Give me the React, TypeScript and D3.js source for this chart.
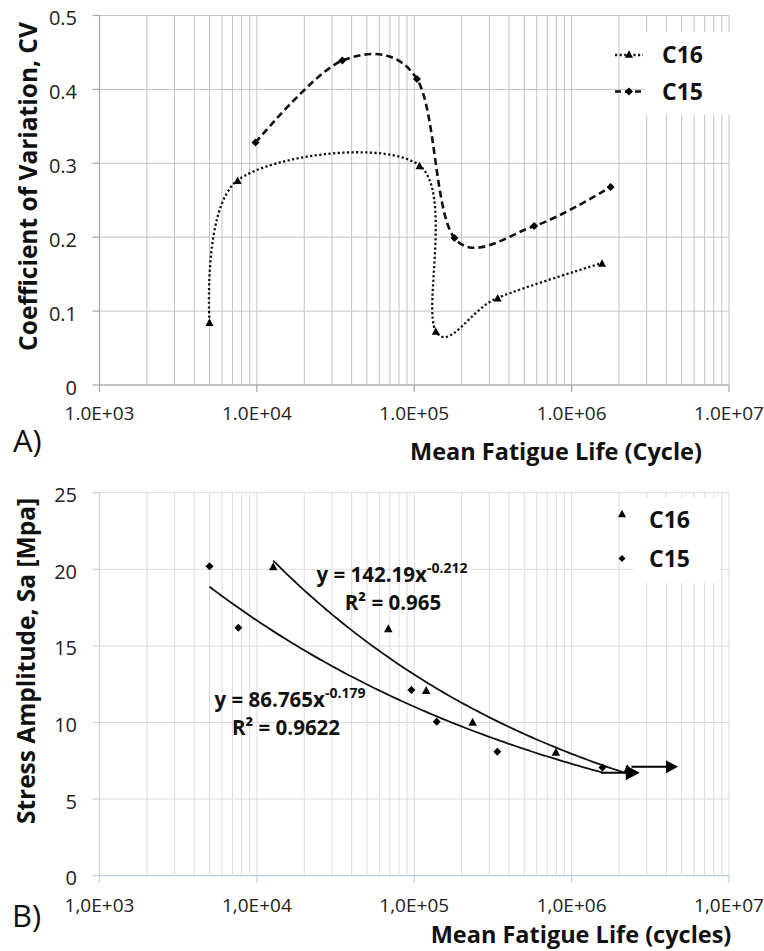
import React from "react";
import * as d3 from "d3";

// ---------- Data ----------
// Panel A: coefficient of variation vs mean fatigue life
const cvC16Life = [5.0e3, 7.55e3, 1.08e5, 1.37e5, 3.39e5, 1.56e6];
const cvC16Val = [0.085, 0.277, 0.297, 0.073, 0.118, 0.165];
const cvC15Life = [9.8e3, 3.49e4, 1.04e5, 1.8e5, 5.78e5, 1.77e6];
const cvC15Val = [0.328, 0.439, 0.414, 0.199, 0.215, 0.268];

// Panel B: stress amplitude vs mean fatigue life
const saC16Life = [1.27e4, 6.84e4, 1.19e5, 2.35e5, 7.94e5, 2.27e6];
const saC16Val = [20.2, 16.15, 12.12, 10.05, 8.09, 7.0];
const saC15Life = [5.0e3, 7.62e3, 9.6e4, 1.39e5, 3.37e5, 1.57e6];
const saC15Val = [20.2, 16.19, 12.12, 10.05, 8.09, 7.07];

// run-out arrows (panel B)
const runoutFrom = [1.54e6, 2.4e6];
const runoutTo = [2.71e6, 4.74e6];
const runoutVal = [6.72, 7.11];

// ticks
const xTickValues = [1e3, 1e4, 1e5, 1e6, 1e7];
const xTickLabelsA = ["1.0E+03", "1.0E+04", "1.0E+05", "1.0E+06", "1.0E+07"];
const xTickLabelsB = ["1,0E+03", "1,0E+04", "1,0E+05", "1,0E+06", "1,0E+07"];
const yTickValuesA = [0, 0.1, 0.2, 0.3, 0.4, 0.5];
const yTickLabelsA = ["0", "0.1", "0.2", "0.3", "0.4", "0.5"];
const yTickValuesB = [0, 5, 10, 15, 20, 25];
const yTickLabelsB = ["0", "5", "10", "15", "20", "25"];

const seriesNames = ["C16", "C15"];
const eqC16 = { main: "y = 142.19x", exp: "-0.212", r2: "R² = 0.965" };
const eqC15 = { main: "y = 86.765x", exp: "-0.179", r2: "R² = 0.9622" };

// ---------- helpers ----------
const FONT = "'Open Sans', 'Noto Sans', sans-serif";

function powerFit(xs: number[], ys: number[]) {
  const lx = xs.map(Math.log);
  const ly = ys.map(Math.log);
  const mx = d3.mean(lx) as number;
  const my = d3.mean(ly) as number;
  let sxy = 0,
    sxx = 0;
  lx.forEach((v, i) => {
    sxy += (v - mx) * (ly[i] - my);
    sxx += (v - mx) * (v - mx);
  });
  const b = sxy / sxx;
  const a = Math.exp(my - b * mx);
  return (x: number) => a * Math.pow(x, b);
}

function triPath(cx: number, cy: number, s: number) {
  const h = s * 0.95;
  return `M${cx},${cy - h / 2}L${cx + s / 2},${cy + h / 2}L${cx - s / 2},${cy + h / 2}Z`;
}
function diaPath(cx: number, cy: number, s: number) {
  const r = s / 2;
  return `M${cx},${cy - r}L${cx + r},${cy}L${cx},${cy + r}L${cx - r},${cy}Z`;
}

export default function App() {
  const W = 764,
    H = 951;
  const xRange: [number, number] = [99.5, 729];

  // Panel A scales
  const xA = d3.scaleLog().domain([1e3, 1e7]).range(xRange);
  const yA = d3.scaleLinear().domain([0, 0.5]).range([385, 15.5]);
  // Panel B scales
  const xB = d3.scaleLog().domain([1e3, 1e7]).range(xRange);
  const yB = d3.scaleLinear().domain([0, 25]).range([875.7, 492.7]);

  const minorTicks = xA.ticks();

  const lineA = d3
    .line<[number, number]>()
    .x((d) => xA(d[0]))
    .y((d) => yA(d[1]))
    .curve(d3.curveCatmullRom.alpha(0));

  const c16A: [number, number][] = cvC16Life.map((v, i) => [v, cvC16Val[i]]);
  const c15A: [number, number][] = cvC15Life.map((v, i) => [v, cvC15Val[i]]);

  const fit16 = powerFit(saC16Life, saC16Val);
  const fit15 = powerFit(saC15Life, saC15Val);
  const trendPts = (xs: number[], f: (x: number) => number) => {
    const lo = Math.log10(d3.min(xs) as number);
    const hi = Math.log10(d3.max(xs) as number);
    return d3.range(0, 101).map((i) => {
      const x = Math.pow(10, lo + ((hi - lo) * i) / 100);
      return [x, f(x)] as [number, number];
    });
  };
  const lineB = d3
    .line<[number, number]>()
    .x((d) => xB(d[0]))
    .y((d) => yB(d[1]));

  const gridA = "#c3c3c3";
  const axisA = "#a6a6a6";
  const gridB = "#dcdcdc";
  const axisBY = "#cfcfcf";
  const axisBX = "#bcd0e8";

  const dotted = "2.2,2.4";
  const dashed = "7,4";

  return (
    <svg
      width={W}
      height={H}
      style={{ position: "absolute", left: 0, top: 0, background: "#fff" }}
      fontFamily={FONT}
    >
      <rect x={0} y={0} width={W} height={H} fill="#fff" />

      {/* ================= Panel A ================= */}
      <g>
        {minorTicks.map((t, i) => (
          <line key={"ga" + i} x1={xA(t)} x2={xA(t)} y1={yA(0.5)} y2={yA(0)} stroke={gridA} strokeWidth={1} />
        ))}
        {yTickValuesA.map((t, i) => (
          <line key={"gya" + i} x1={xRange[0]} x2={xRange[1]} y1={yA(t)} y2={yA(t)} stroke={gridA} strokeWidth={1} />
        ))}
        {/* axes */}
        <line x1={xRange[0]} x2={xRange[1]} y1={yA(0)} y2={yA(0)} stroke={axisA} strokeWidth={1.2} />
        <line x1={xRange[0]} x2={xRange[0]} y1={yA(0)} y2={yA(0.5)} stroke={axisA} strokeWidth={1.2} />
        {xTickValues.map((t, i) => (
          <g key={"xta" + i}>
            <line x1={xA(t)} x2={xA(t)} y1={yA(0)} y2={yA(0) + 7} stroke={axisA} strokeWidth={1.2} />
            <text x={xA(t)} y={yA(0) + 35} textAnchor="middle" fontSize={19} fill="#222">
              {xTickLabelsA[i]}
            </text>
          </g>
        ))}
        {yTickValuesA.map((t, i) => (
          <g key={"yta" + i}>
            <line x1={xRange[0] - 7} x2={xRange[0]} y1={yA(t)} y2={yA(t)} stroke={axisA} strokeWidth={1.2} />
            <text x={77} y={yA(t) + 2} textAnchor="end" dominantBaseline="central" fontSize={20} fill="#222">
              {yTickLabelsA[i]}
            </text>
          </g>
        ))}

        {/* series */}
        <path d={lineA(c16A) || ""} fill="none" stroke="#111" strokeWidth={2.3} strokeDasharray={dotted} />
        <path d={lineA(c15A) || ""} fill="none" stroke="#111" strokeWidth={2.6} strokeDasharray={dashed} />
        {c16A.map((d, i) => (
          <path key={"ma16" + i} d={triPath(xA(d[0]), yA(d[1]), 8)} fill="#000" />
        ))}
        {c15A.map((d, i) => (
          <path key={"ma15" + i} d={diaPath(xA(d[0]), yA(d[1]), 8)} fill="#000" />
        ))}

        {/* legend */}
        <rect x={645} y={32} width={85} height={83} fill="#fff" />
        <line x1={615} x2={643} y1={55} y2={55} stroke="#111" strokeWidth={2.3} strokeDasharray={dotted} />
        <path d={triPath(629, 54, 8)} fill="#000" />
        <text x={662} y={63} fontSize={23} fontWeight="bold" fill="#111">
          {seriesNames[0]}
        </text>
        <line x1={615} x2={643} y1={91.5} y2={91.5} stroke="#111" strokeWidth={2.6} strokeDasharray="6,4" />
        <path d={diaPath(629, 91.5, 8)} fill="#000" />
        <text x={662} y={100} fontSize={23} fontWeight="bold" fill="#111">
          {seriesNames[1]}
        </text>

        {/* titles */}
        <text
          transform={`translate(37,186.5) rotate(-90)`}
          textAnchor="middle"
          fontSize={24.5}
          fontWeight="bold"
          fill="#111"
        >
          Coefficient of Variation, CV
        </text>
        <text x={556} y={460} textAnchor="middle" fontSize={23.5} fontWeight="bold" fill="#111">
          Mean Fatigue Life (Cycle)
        </text>
        <text x={13} y={452} fontSize={31} fill="#111">
          A)
        </text>
      </g>

      {/* ================= Panel B ================= */}
      <g>
        {minorTicks.map((t, i) => (
          <line key={"gb" + i} x1={xB(t)} x2={xB(t)} y1={yB(25)} y2={yB(0)} stroke={gridB} strokeWidth={1} />
        ))}
        {yTickValuesB.map((t, i) => (
          <line key={"gyb" + i} x1={xRange[0]} x2={xRange[1]} y1={yB(t)} y2={yB(t)} stroke={gridB} strokeWidth={1} />
        ))}
        <line x1={xRange[0]} x2={xRange[0]} y1={yB(0)} y2={yB(25)} stroke={axisBY} strokeWidth={1.2} />
        <line x1={xRange[0]} x2={xRange[1]} y1={yB(0)} y2={yB(0)} stroke={axisBX} strokeWidth={1.2} />
        {xTickValues.map((t, i) => (
          <g key={"xtb" + i}>
            <line x1={xB(t)} x2={xB(t)} y1={yB(0)} y2={yB(0) + 7} stroke={axisBX} strokeWidth={1.2} />
            <text x={xB(t)} y={yB(0) + 36} textAnchor="middle" fontSize={19} fill="#222">
              {xTickLabelsB[i]}
            </text>
          </g>
        ))}
        {yTickValuesB.map((t, i) => (
          <g key={"ytb" + i}>
            <line x1={xRange[0] - 7} x2={xRange[0]} y1={yB(t)} y2={yB(t)} stroke={axisBY} strokeWidth={1.2} />
            <text x={77} y={yB(t) + 2} textAnchor="end" dominantBaseline="central" fontSize={20} fill="#222">
              {yTickLabelsB[i]}
            </text>
          </g>
        ))}

        {/* trend lines */}
        <path d={lineB(trendPts(saC16Life, fit16)) || ""} fill="none" stroke="#111" strokeWidth={1.8} />
        <path d={lineB(trendPts(saC15Life, fit15)) || ""} fill="none" stroke="#111" strokeWidth={1.8} />

        {/* markers */}
        {saC16Life.map((v, i) => (
          <path key={"mb16" + i} d={triPath(xB(v), yB(saC16Val[i]), 8.5)} fill="#000" />
        ))}
        {saC15Life.map((v, i) => (
          <path key={"mb15" + i} d={diaPath(xB(v), yB(saC15Val[i]), 8)} fill="#000" />
        ))}

        {/* run-out arrows */}
        {runoutFrom.map((v, i) => {
          const x1 = xB(v);
          const x2 = xB(runoutTo[i]);
          const y = yB(runoutVal[i]);
          const hl = i === 0 ? 14 : 12;
          const hh = i === 0 ? 7.5 : 6.5;
          return (
            <g key={"ar" + i}>
              <line x1={x1} x2={x2 - hl + 1} y1={y} y2={y} stroke="#000" strokeWidth={2} />
              <path d={`M${x2},${y}L${x2 - hl},${y - hh}L${x2 - hl},${y + hh}Z`} fill="#000" />
            </g>
          );
        })}

        {/* equations */}
        <text x={392} y={582} textAnchor="middle" fontSize={20.5} fontWeight="bold" fill="#111">
          {eqC16.main}
          <tspan fontSize={14} dy={-9}>
            {eqC16.exp}
          </tspan>
        </text>
        <text x={393} y={610} textAnchor="middle" fontSize={20.5} fontWeight="bold" fill="#111">
          {eqC16.r2}
        </text>
        <text x={290} y={707} textAnchor="middle" fontSize={20.5} fontWeight="bold" fill="#111">
          {eqC15.main}
          <tspan fontSize={14} dy={-9}>
            {eqC15.exp}
          </tspan>
        </text>
        <text x={286} y={735} textAnchor="middle" fontSize={20.5} fontWeight="bold" fill="#111">
          {eqC15.r2}
        </text>

        {/* legend */}
        <rect x={633} y={498} width={87} height={85} fill="#fff" />
        <path d={triPath(622, 513.5, 8)} fill="#000" />
        <text x={649} y={528} fontSize={23} fontWeight="bold" fill="#111">
          {seriesNames[0]}
        </text>
        <path d={diaPath(622, 558.5, 7)} fill="#000" />
        <text x={649} y={567} fontSize={23} fontWeight="bold" fill="#111">
          {seriesNames[1]}
        </text>

        {/* titles */}
        <text
          transform={`translate(35,661) rotate(-90)`}
          textAnchor="middle"
          fontSize={24.5}
          fontWeight="bold"
          fill="#111"
        >
          Stress Amplitude, Sa [Mpa]
        </text>
        <text x={581} y={943} textAnchor="middle" fontSize={23.5} fontWeight="bold" fill="#111">
          Mean Fatigue Life (cycles)
        </text>
        <text x={12} y={927} fontSize={31} fill="#111">
          B)
        </text>
      </g>
    </svg>
  );
}
